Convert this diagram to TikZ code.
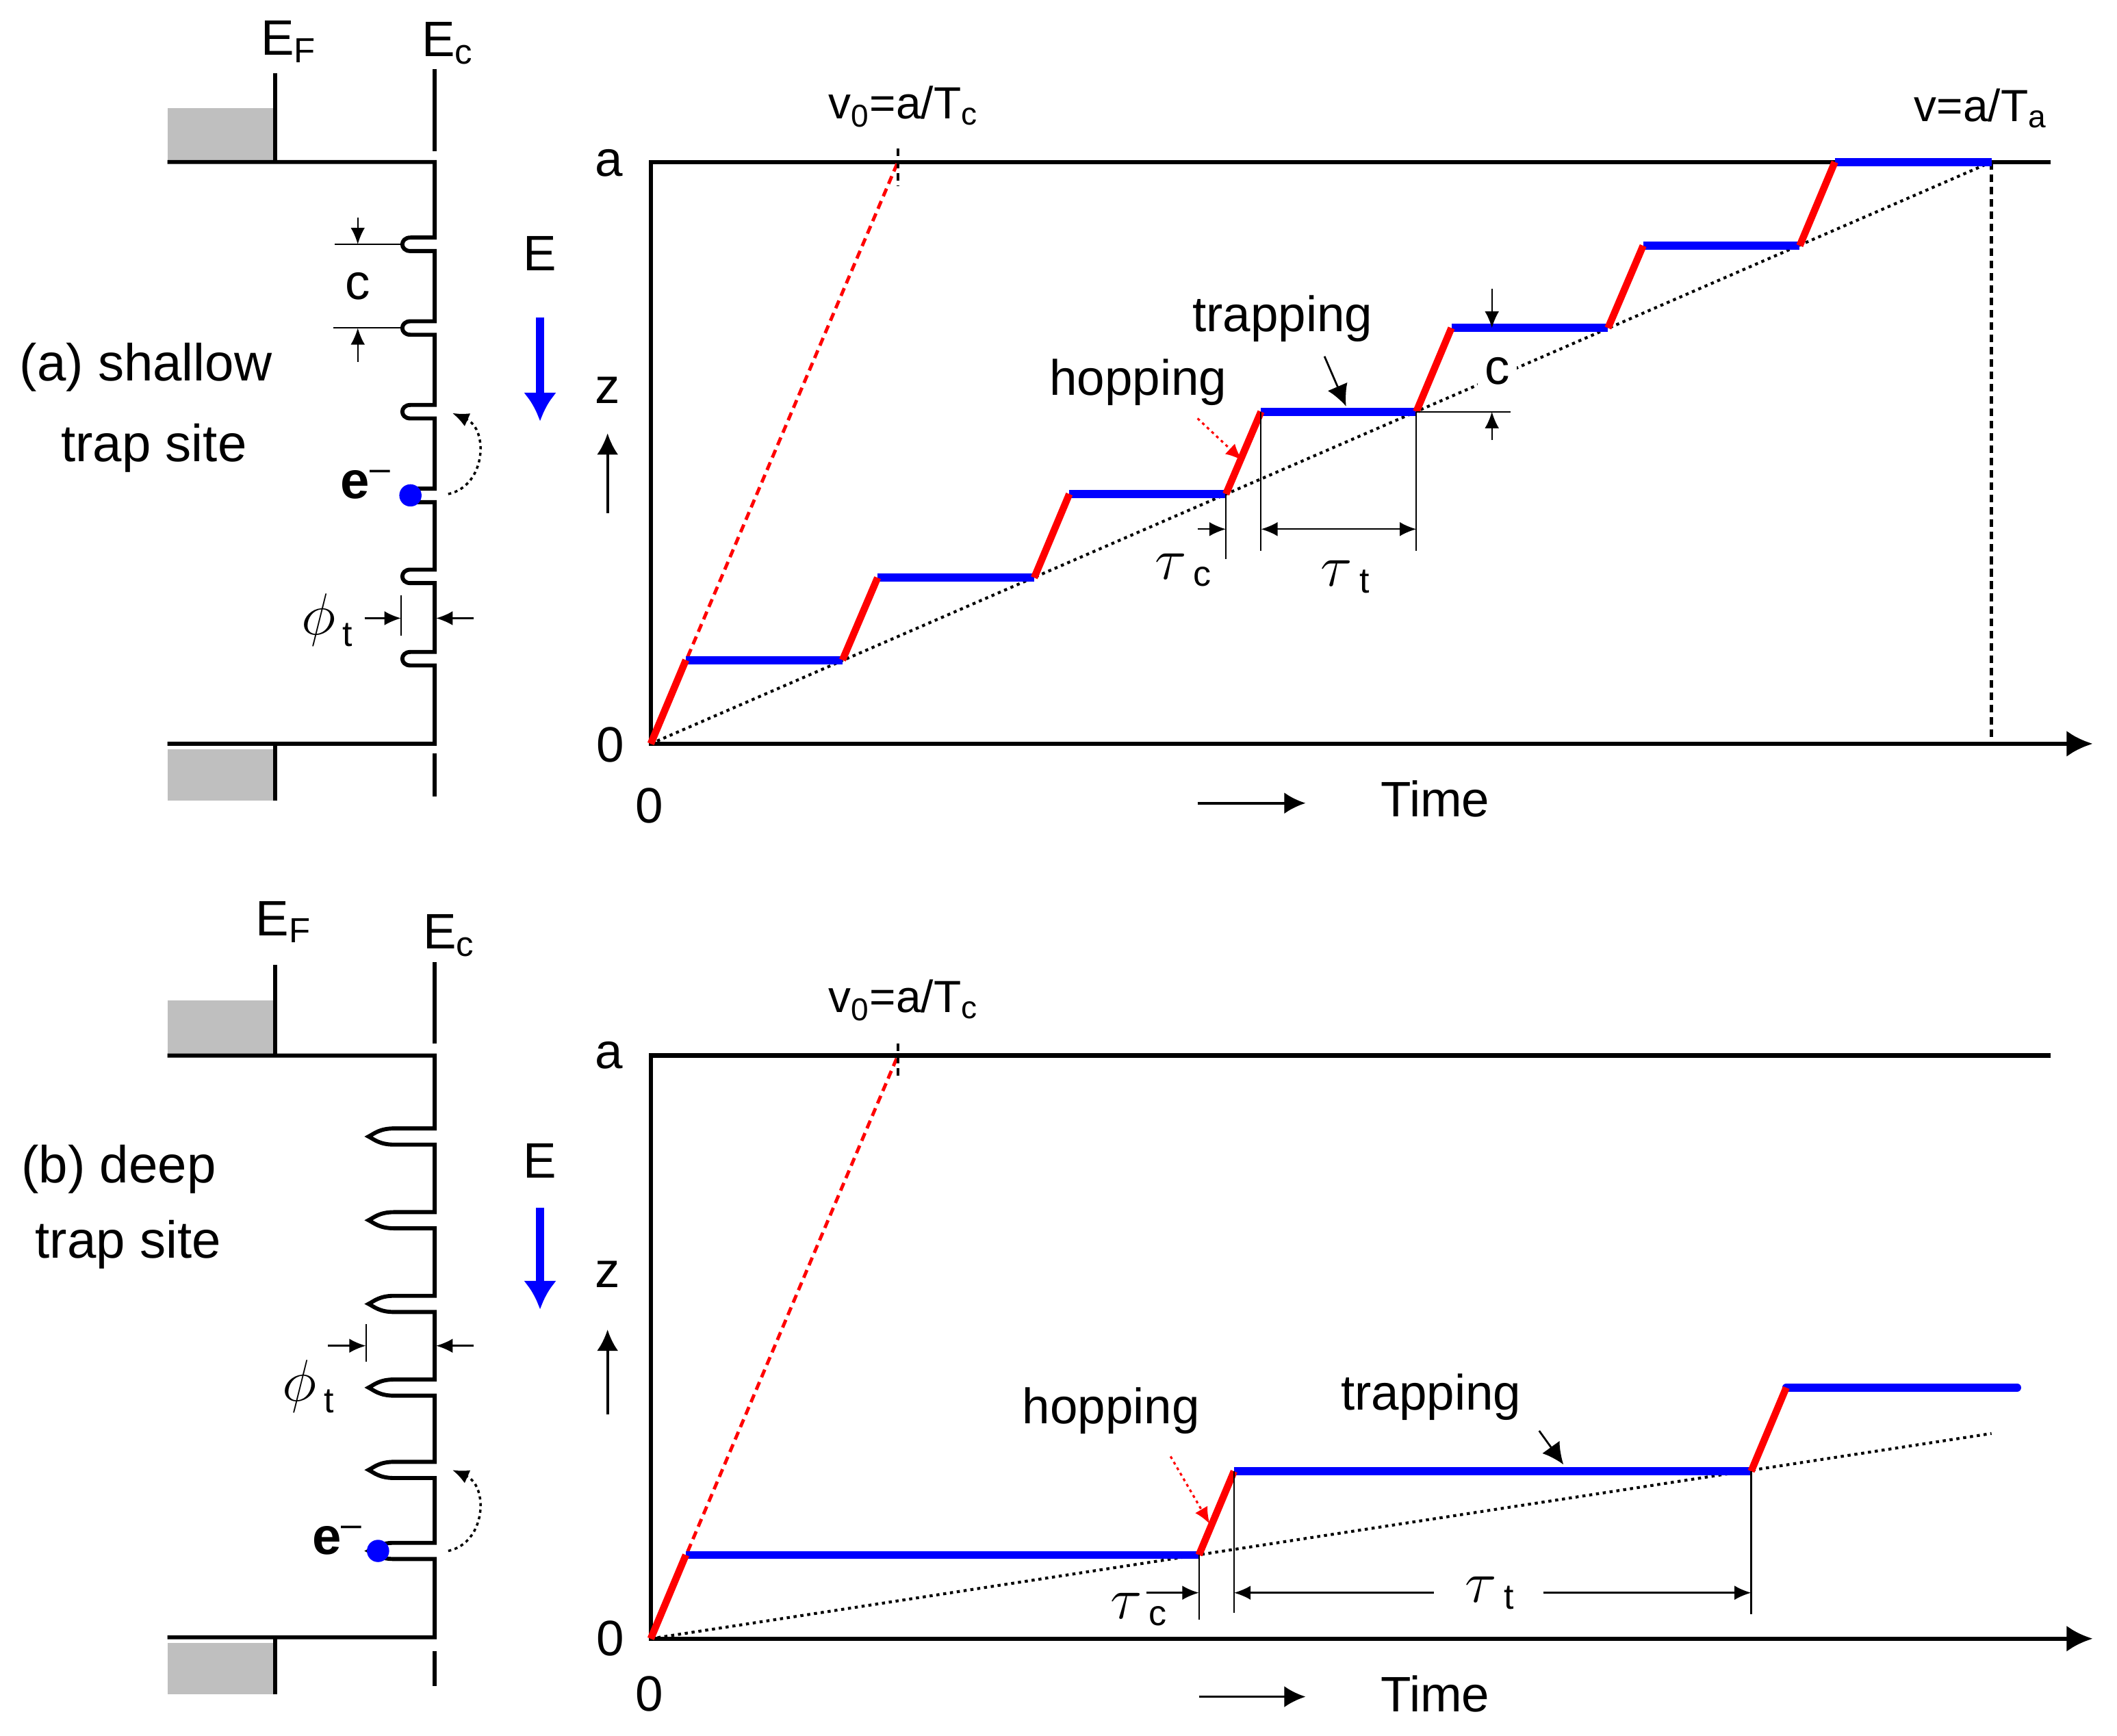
\documentclass[tikz,border=0pt]{standalone}
\usepackage{fontspec}
\setmainfont{Liberation Sans}
\usepackage{tikz}
\usetikzlibrary{arrows.meta}

\newcommand{\txtfont}{\fontsize{21}{25}\selectfont}
\newcommand{\vfont}{\fontsize{19}{23}\selectfont}
\newcommand{\panelfont}{\fontsize{22}{26}\selectfont}
\newcommand{\elfont}{\fontsize{22}{26}\selectfont\bfseries}
\newcommand{\greekfont}{\fontsize{31}{34}\selectfont}
\newcommand{\phifont}{\fontsize{25}{28}\selectfont}
\newcommand{\subfont}{\fontsize{15}{17}\selectfont}

\tikzstyle{txt} = [font=\txtfont, inner sep=0pt]
\tikzstyle{vlbl} = [font=\vfont, inner sep=0pt]
\tikzstyle{panel} = [font=\panelfont, inner sep=0pt]
\tikzstyle{band} = [line width=1.7pt]
\tikzstyle{fermi} = [fill=black!25]
\tikzstyle{axis} = [line width=1.8pt, ->, >={Latex[length=11pt,width=11pt]}]
\tikzstyle{trap} = [blue, line width=3.4pt]
\tikzstyle{hop} = [red, line width=3pt]
\tikzstyle{drift} = [line width=1.2pt, dash pattern=on 1.3pt off 1.6pt]
\tikzstyle{ballistic} = [red, line width=1.4pt, dash pattern=on 3.5pt off 2.2pt]
\tikzstyle{tickdash} = [line width=1.3pt, dash pattern=on 3.2pt off 2pt]
\tikzstyle{guide} = [line width=0.6pt]
\tikzstyle{dimarrow} = [line width=0.7pt, ->, >={Latex[length=7pt,width=6pt]}]
\tikzstyle{arrow} = [line width=1.1pt, ->, >={Latex[length=9pt,width=9pt]}]
\tikzstyle{field} = [blue, line width=3.5pt, ->, >={Latex[length=12pt,width=14pt]}]
\tikzstyle{pointer} = [red, line width=0.9pt, dash pattern=on 1.2pt off 1.5pt, ->, >={Latex[length=7pt,width=6pt]}]
\tikzstyle{curl} = [line width=1pt, dash pattern=on 1.3pt off 1.5pt, ->, >={Latex[length=7pt,width=6pt]}]
\tikzstyle{electron} = [circle, fill=blue, minimum size=0.33cm, inner sep=0pt]

\begin{document}
\begin{tikzpicture}[x=0.02cm, y=-0.02cm]
\useasboundingbox (0,0) rectangle (1568,1286);

% ---------- (a) shallow trap site ----------
\fill[fermi] (124,80) rectangle (204,120);
\fill[fermi] (124,555) rectangle (204,593);
\draw[band] (204,54) -- (204,120);
\draw[band] (204,551) -- (204,593);
\draw[band] (322,51) -- (322,112);
\draw[band] (322,558) -- (322,590);
\draw[band] (124,120) -- (322,120)
  -- (322,176) -- (304,176) .. controls (296,176) and (296,186) .. (304,186) -- (322,186)
  -- (322,238) -- (304,238) .. controls (296,238) and (296,248) .. (304,248) -- (322,248)
  -- (322,300) -- (304,300) .. controls (296,300) and (296,310) .. (304,310) -- (322,310)
  -- (322,362) -- (304,362) .. controls (296,362) and (296,372) .. (304,372) -- (322,372)
  -- (322,422) -- (304,422) .. controls (296,422) and (296,432) .. (304,432) -- (322,432)
  -- (322,483) -- (304,483) .. controls (296,483) and (296,493) .. (304,493) -- (322,493)
  -- (322,551) -- (124,551);

\node[txt, anchor=base west] (ef-a) at (193,41) {E\textsubscript{F}};
\node[txt, anchor=base west] (ec-a) at (312,42) {E\textsubscript{c}};
\node[panel] (title-a) at (108,272) {(a) shallow};
\node[panel] (site-a) at (114,332) {trap site};

% c spacing
\draw[guide] (248,181) -- (298,181);
\draw[guide] (247,243) -- (298,243);
\draw[dimarrow] (265,161) -- (265,181);
\draw[dimarrow] (265,268) -- (265,243);
\node[txt] (c-a) at (265,212) {c};

% trap depth
\draw[dimarrow] (270,458) -- (297,458);
\draw[guide] (297,441) -- (297,471);
\draw[dimarrow] (351,458) -- (323,458);
\node[inner sep=0pt, anchor=base west] (phi-a) at (223,470) {\phifont$\phi$\hspace{3pt}\raisebox{-5pt}{\subfont t}};

% electron
\node[electron] (e-a) at (304,367) {};
\node[font=\elfont, inner sep=0pt] (el-a) at (271,359) {e\textsuperscript{\mdseries --}};
\coordinate (jumpfrom-a) at (332,366);
\coordinate (jumpto-a) at (335,306);
\draw[curl] (jumpfrom-a) .. controls (360,360) and (362,318) .. (jumpto-a);

% field
\node[txt] (E-a) at (400,188) {E};
\draw[field] (400,235) -- (400,312);

% plot axes
\draw[axis] (1519,120) -- (482,120) -- (482,551) -- (1550,551);
\node[txt] (ta-a) at (451,121) {a};
\node[txt] (z0-a) at (452,552) {0};
\node[txt] (t0-a) at (481,597) {0};
\node[txt] (z-a) at (450,289) {z};
\draw[arrow] (450,380) -- (450,321);
\node[txt] (time-a) at (1063,592) {Time};
\draw[arrow] (887,595) -- (967,595);

\draw[drift] (482,551) -- (1475,120);
\draw[ballistic] (482,551) -- (665,120);
\draw[tickdash] (665,110) -- (665,138);
\draw[tickdash] (1475,120) -- (1475,551);
\node[vlbl, anchor=base] (v0-a) at (669,88) {v\textsubscript{0}=a/T\textsubscript{c}};
\node[vlbl, anchor=base] (va-a) at (1467,90) {v=a/T\textsubscript{a}};

% trapping (blue) and hopping (red)
\draw[trap] (508,489) -- (624,489);
\draw[trap] (650,428) -- (766,428);
\draw[trap] (792,366) -- (908,366);
\draw[trap] (934,305) -- (1049,305);
\draw[trap] (1075,243) -- (1191,243);
\draw[trap] (1217,182) -- (1333,182);
\draw[trap] (1359,120) -- (1475,120);
\draw[hop] (482,551) -- (508,489);
\draw[hop] (624,489) -- (650,428);
\draw[hop] (766,428) -- (792,366);
\draw[hop] (908,366) -- (934,305);
\draw[hop] (1049,305) -- (1075,243);
\draw[hop] (1191,243) -- (1217,182);
\draw[hop] (1333,182) -- (1359,120);

% annotations
\node[txt] (hopl-a) at (843,283) {hopping};
\node[txt] (trapl-a) at (950,236) {trapping};
\coordinate (hopfrom-a) at (887,310);
\coordinate (hopto-a) at (920,341);
\draw[pointer] (hopfrom-a) -- (hopto-a);
\coordinate (trapfrom-a) at (981,264);
\coordinate (trapto-a) at (997,301);
\draw[arrow, line width=0.8pt] (trapfrom-a) -- (trapto-a);

\draw[guide] (908,366) -- (908,414);
\draw[guide] (934,305) -- (934,408);
\draw[guide] (1049,305) -- (1049,408);
\draw[dimarrow] (887,392) -- (908,392);
\draw[dimarrow, <->] (934,392) -- (1049,392);
\node[inner sep=0pt, anchor=base west] (tauc-a) at (855,429) {\greekfont$\tau$\hspace{3pt}\raisebox{-3pt}{\subfont c}};
\node[inner sep=0pt, anchor=base west] (taut-a) at (978,434) {\greekfont$\tau$\hspace{3pt}\raisebox{-3pt}{\subfont t}};

\draw[guide] (1049,305) -- (1119,305);
\draw[dimarrow] (1105,214) -- (1105,243);
\draw[dimarrow] (1105,326) -- (1105,305);
\node[txt, fill=white, inner sep=3pt] (c2-a) at (1109,275) {c};

% ---------- (b) deep trap site ----------
\fill[fermi] (124,741) rectangle (204,782);
\fill[fermi] (124,1217) rectangle (204,1255);
\draw[band] (204,715) -- (204,782);
\draw[band] (204,1213) -- (204,1255);
\draw[band] (322,713) -- (322,773);
\draw[band] (322,1223) -- (322,1249);
\draw[band] (124,782) -- (322,782)
  -- (322,836) -- (292,836) .. controls (281,836) and (277,840) .. (273,842) .. controls (277,844) and (281,848) .. (292,848) -- (322,848)
  -- (322,898) -- (292,898) .. controls (281,898) and (277,902) .. (273,904) .. controls (277,906) and (281,910) .. (292,910) -- (322,910)
  -- (322,960) -- (292,960) .. controls (281,960) and (277,964) .. (273,966) .. controls (277,968) and (281,972) .. (292,972) -- (322,972)
  -- (322,1022) -- (292,1022) .. controls (281,1022) and (277,1026) .. (273,1028) .. controls (277,1030) and (281,1034) .. (292,1034) -- (322,1034)
  -- (322,1083) -- (292,1083) .. controls (281,1083) and (277,1087) .. (273,1089) .. controls (277,1091) and (281,1095) .. (292,1095) -- (322,1095)
  -- (322,1143) -- (292,1143) .. controls (281,1143) and (277,1147) .. (273,1149) .. controls (277,1151) and (281,1155) .. (292,1155) -- (322,1155)
  -- (322,1213) -- (124,1213);

\node[txt, anchor=base west] (ef-b) at (189,693) {E\textsubscript{F}};
\node[txt, anchor=base west] (ec-b) at (313,703) {E\textsubscript{c}};
\node[panel] (title-b) at (88,866) {(b) deep};
\node[panel] (site-b) at (95,922) {trap site};

\draw[dimarrow] (243,997) -- (271,997);
\draw[guide] (271,981) -- (271,1009);
\draw[dimarrow] (351,997) -- (323,997);
\node[inner sep=0pt, anchor=base west] (phi-b) at (209,1038) {\phifont$\phi$\hspace{3pt}\raisebox{-5pt}{\subfont t}};

\node[electron] (e-b) at (280,1149) {};
\node[font=\elfont, inner sep=0pt] (el-b) at (250,1141) {e\textsuperscript{\mdseries --}};
\coordinate (jumpfrom-b) at (332,1149);
\coordinate (jumpto-b) at (335,1089);
\draw[curl] (jumpfrom-b) .. controls (360,1143) and (362,1101) .. (jumpto-b);

\node[txt] (E-b) at (400,860) {E};
\draw[field] (400,895) -- (400,970);

\draw[axis] (1519,782) -- (482,782) -- (482,1214) -- (1550,1214);
\node[txt] (ta-b) at (451,782) {a};
\node[txt] (z0-b) at (452,1214) {0};
\node[txt] (t0-b) at (481,1255) {0};
\node[txt] (z-b) at (450,944) {z};
\draw[arrow] (450,1048) -- (450,985);
\node[txt] (time-b) at (1063,1255) {Time};
\draw[arrow] (888,1257) -- (967,1257);

\draw[drift] (482,1214) -- (1475,1062);
\draw[ballistic] (482,1214) -- (665,782);
\draw[tickdash] (665,773) -- (665,800);
\node[vlbl, anchor=base] (v0-b) at (669,750) {v\textsubscript{0}=a/T\textsubscript{c}};

\draw[trap] (508,1152) -- (888,1152);
\draw[trap] (914,1090) -- (1297,1090);
\draw[trap, line cap=round] (1323,1028) -- (1494,1028);
\draw[hop] (482,1214) -- (508,1152);
\draw[hop] (888,1152) -- (914,1090);
\draw[hop] (1297,1090) -- (1323,1028);

\node[txt] (hopl-b) at (823,1045) {hopping};
\node[txt] (trapl-b) at (1060,1035) {trapping};
\coordinate (hopfrom-b) at (867,1079);
\coordinate (hopto-b) at (896,1129);
\draw[pointer] (hopfrom-b) -- (hopto-b);
\coordinate (trapfrom-b) at (1140,1060);
\coordinate (trapto-b) at (1158,1085);
\draw[arrow, line width=0.8pt] (trapfrom-b) -- (trapto-b);

\draw[guide] (888,1152) -- (888,1200);
\draw[guide] (914,1090) -- (914,1195);
\draw[guide] (1297,1090) -- (1297,1196);
\draw[dimarrow] (849,1180) -- (888,1180);
\draw[dimarrow] (1062,1180) -- (914,1180);
\draw[dimarrow] (1143,1180) -- (1297,1180);
\node[inner sep=0pt, anchor=base west] (tauc-b) at (822,1199) {\greekfont$\tau$\hspace{3pt}\raisebox{-3pt}{\subfont c}};
\node[inner sep=0pt, anchor=base west] (taut-b) at (1085,1187) {\greekfont$\tau$\hspace{3pt}\raisebox{-3pt}{\subfont t}};

\end{tikzpicture}
\end{document}
